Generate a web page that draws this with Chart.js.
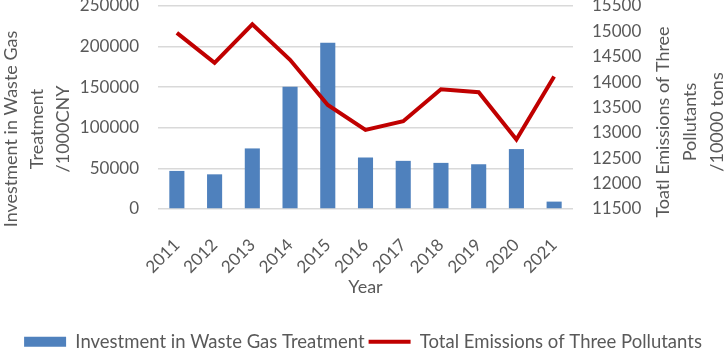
<!DOCTYPE html>
<html>
<head>
<meta charset="utf-8">
<script src="https://cdn.jsdelivr.net/npm/chart.js@4"></script>
<style>
  html, body { margin: 0; padding: 0; background: #fff; }
  #wrap { width: 726px; height: 350px; }
</style>
</head>
<body>
<div id="wrap"><canvas id="chart"></canvas></div>
<script>
// Data
const years = ['2011', '2012', '2013', '2014', '2015', '2016', '2017', '2018', '2019', '2020', '2021'];
const investment = [46900, 42700, 74600, 150500, 204800, 63400, 59300, 56800, 55100, 73800, 9100];
const emissions = [14970, 14380, 15140, 14440, 13550, 13060, 13230, 13860, 13800, 12870, 14110];

const leftTitle = ['Investment in Waste Gas', 'Treatment', '/1000CNY'];
const rightTitle = ['Toatl Emissions of Three', 'Pollutants', '/10000 tons'];

const FONT = 'Lato';
const TEXT = '#595959';

// Both axis titles read bottom-to-top, so draw them by hand
const axisTitles = {
    id: 'axisTitles',
    afterDraw(chart) {
        const ctx = chart.ctx;
        ctx.save();
        ctx.fillStyle = TEXT;
        ctx.font = '18px ' + FONT;
        ctx.textAlign = 'center';
        ctx.textBaseline = 'middle';
        const draw = (lines, xs, y) => {
            lines.forEach((line, i) => {
                ctx.save();
                ctx.translate(xs[i], y);
                ctx.rotate(-Math.PI / 2);
                ctx.fillText(line, 0, 0);
                ctx.restore();
            });
        };
        draw(leftTitle, [11, 37, 63], 129);
        draw(rightTitle, [663, 690, 717], 122);
        ctx.restore();
    }
};

// fixed axis sizes so the plot sits where it does in the reference
const fitY = w => s => {
    s.width = w;
    s.paddingTop = 0;
    s.paddingBottom = 0;
};

document.addEventListener('DOMContentLoaded', () => {
    new Chart(document.getElementById('chart'), {
        data: {
            labels: years,
            datasets: [
                {
                    type: 'line',
                    label: 'Total Emissions of Three Pollutants',
                    data: emissions,
                    yAxisID: 'y1',
                    borderColor: '#C00000',
                    backgroundColor: '#C00000',
                    borderWidth: 4,
                    pointRadius: 0,
                    pointStyle: 'line',
                    tension: 0,
                    order: 1
                },
                {
                    type: 'bar',
                    label: 'Investment in Waste Gas Treatment',
                    data: investment,
                    yAxisID: 'y',
                    backgroundColor: '#4F81BD',
                    pointStyle: 'rect',
                    barPercentage: 0.4,
                    categoryPercentage: 1,
                    order: 2
                }
            ]
        },
        options: {
            responsive: true,
            maintainAspectRatio: false,
            animation: false,
            layout: { padding: { left: 0, top: 6, right: 0, bottom: -11 } },
            scales: {
                x: {
                    afterFit: s => { s.height = 119.5; },
                    grid: { display: false },
                    border: { display: false },
                    ticks: {
                        color: TEXT,
                        font: { family: FONT, size: 17 },
                        minRotation: 45,
                        maxRotation: 45,
                        padding: 18
                    },
                    title: {
                        display: true,
                        text: 'Year',
                        color: TEXT,
                        font: { family: FONT, size: 18 },
                        padding: { top: 4, bottom: 31 }
                    }
                },
                y: {
                    position: 'left',
                    min: 0,
                    max: 250000,
                    afterFit: fitY(158),
                    grid: { color: '#D9D9D9', lineWidth: 1.5, drawTicks: false },
                    border: { display: false },
                    ticks: {
                        stepSize: 50000,
                        autoSkip: false,
                        callback: v => String(v),
                        color: TEXT,
                        font: { family: FONT, size: 17 },
                        padding: 19
                    }
                },
                y1: {
                    position: 'right',
                    min: 11500,
                    max: 15500,
                    afterFit: fitY(153),
                    grid: { display: false, drawTicks: false },
                    border: { display: false },
                    ticks: {
                        stepSize: 500,
                        autoSkip: false,
                        callback: v => String(v),
                        color: TEXT,
                        font: { family: FONT, size: 17 },
                        padding: 19
                    }
                }
            },
            plugins: {
                legend: {
                    position: 'bottom',
                    reverse: true,
                    labels: {
                        usePointStyle: true,
                        pointStyleWidth: 42,
                        boxHeight: 10,
                        color: TEXT,
                        font: { family: FONT, size: 18.5 },
                        padding: 4
                    }
                },
                tooltip: { enabled: false }
            }
        },
        plugins: [axisTitles]
    });
});
</script>
</body>
</html>
